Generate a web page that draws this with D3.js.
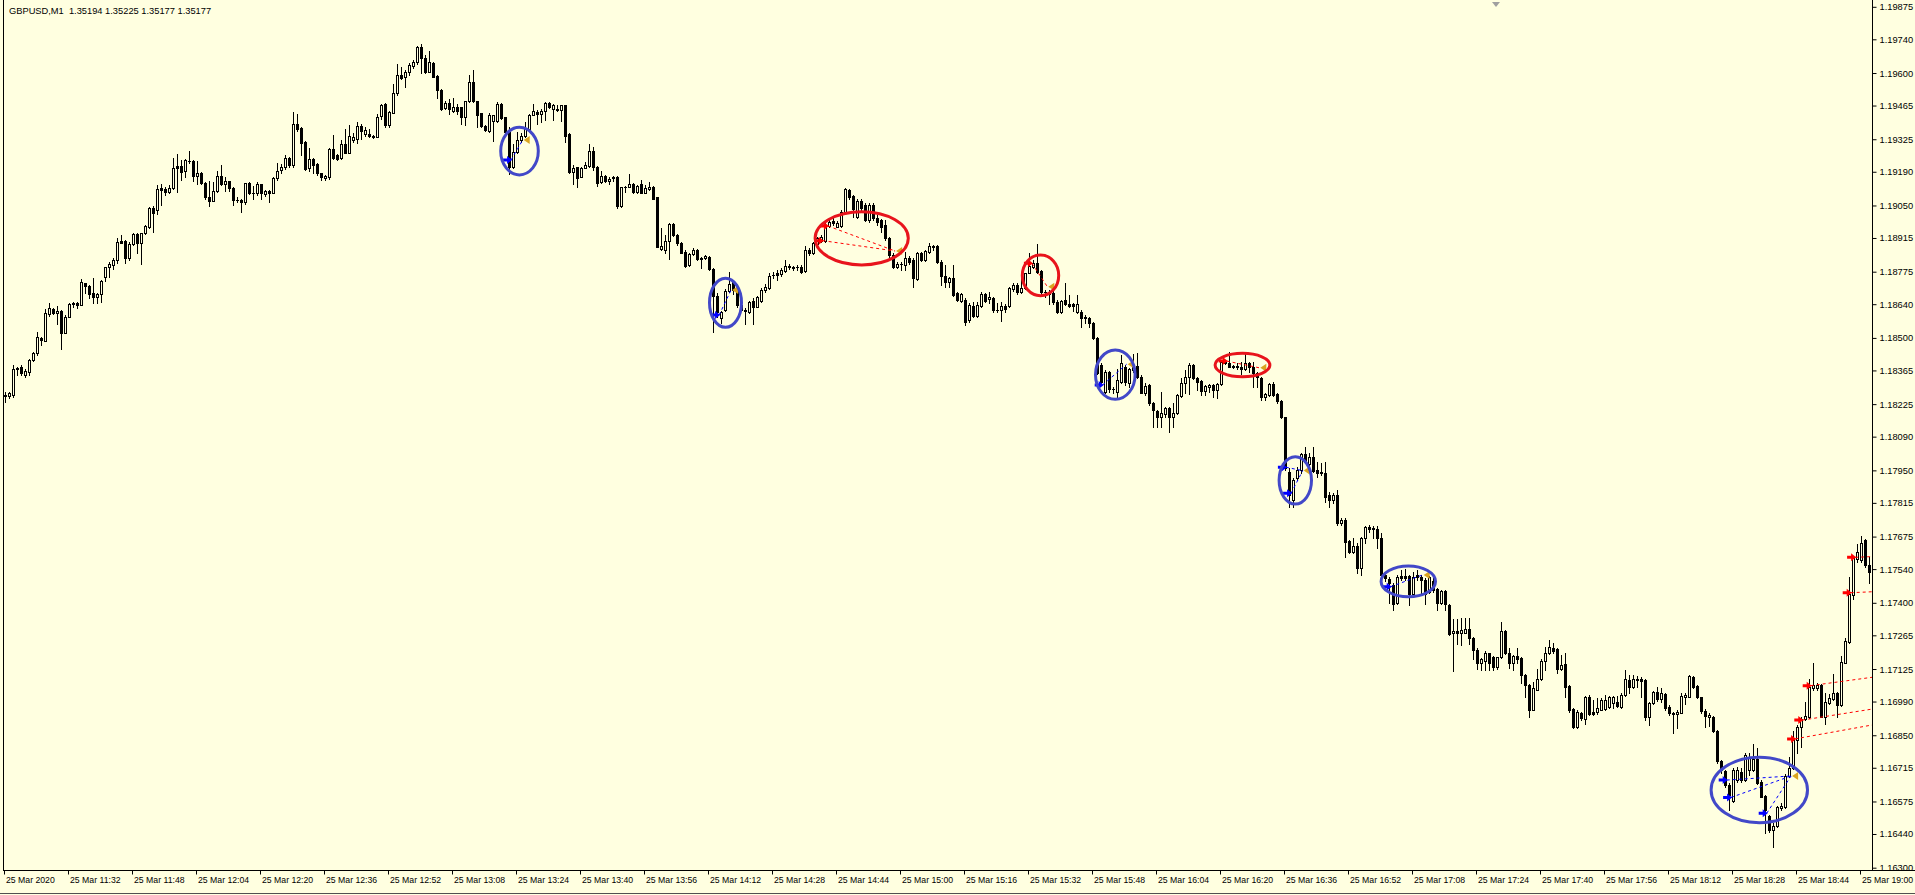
<!DOCTYPE html>
<html><head><meta charset="utf-8">
<script src="https://cdn.jsdelivr.net/npm/d3@7"></script>
<style>html,body{margin:0;padding:0;background:#FFFFE0;overflow:hidden}</style>
</head><body>
<svg id="chart" width="1915" height="895"></svg>
<script>
const symbolTitle = "GBPUSD,M1  1.35194 1.35225 1.35177 1.35177";
const timeLabels = ["25 Mar 2020","25 Mar 11:32","25 Mar 11:48","25 Mar 12:04","25 Mar 12:20","25 Mar 12:36","25 Mar 12:52","25 Mar 13:08","25 Mar 13:24","25 Mar 13:40","25 Mar 13:56","25 Mar 14:12","25 Mar 14:28","25 Mar 14:44","25 Mar 15:00","25 Mar 15:16","25 Mar 15:32","25 Mar 15:48","25 Mar 16:04","25 Mar 16:20","25 Mar 16:36","25 Mar 16:52","25 Mar 17:08","25 Mar 17:24","25 Mar 17:40","25 Mar 17:56","25 Mar 18:12","25 Mar 18:28","25 Mar 18:44","25 Mar 19:00"];
const priceLabels = ["1.19875","1.19740","1.19600","1.19465","1.19325","1.19190","1.19050","1.18915","1.18775","1.18640","1.18500","1.18365","1.18225","1.18090","1.17950","1.17815","1.17675","1.17540","1.17400","1.17265","1.17125","1.16990","1.16850","1.16715","1.16575","1.16440","1.16300"];

const open = [1.18265,1.18261,1.18265,1.18372,1.18380,1.18350,1.18362,1.18410,1.18441,1.18500,
1.18491,1.18600,1.18621,1.18604,1.18613,1.18524,1.18590,1.18642,1.18649,1.18637,
1.18729,1.18718,1.18690,1.18671,1.18685,1.18754,1.18795,1.18806,1.18826,1.18905,
1.18903,1.18833,1.18892,1.18932,1.18898,1.18936,1.18961,1.19042,1.19033,1.19123,
1.19121,1.19109,1.19123,1.19216,1.19216,1.19197,1.19238,1.19238,1.19176,1.19188,
1.19144,1.19089,1.19072,1.19114,1.19174,1.19141,1.19152,1.19123,1.19075,1.19075,
1.19067,1.19144,1.19105,1.19103,1.19140,1.19100,1.19114,1.19105,1.19165,1.19199,
1.19210,1.19248,1.19220,1.19390,1.19372,1.19317,1.19206,1.19244,1.19223,1.19186,
1.19165,1.19169,1.19285,1.19262,1.19248,1.19306,1.19271,1.19324,1.19327,1.19383,
1.19347,1.19347,1.19342,1.19338,1.19425,1.19473,1.19386,1.19437,1.19520,1.19594,
1.19584,1.19605,1.19632,1.19646,1.19711,1.19663,1.19608,1.19645,1.19591,1.19531,
1.19455,1.19476,1.19446,1.19459,1.19459,1.19421,1.19484,1.19566,1.19484,1.19435,
1.19382,1.19363,1.19404,1.19404,1.19473,1.19418,1.19358,1.19210,1.19275,1.19324,
1.19342,1.19368,1.19428,1.19441,1.19432,1.19444,1.19477,1.19451,1.19454,1.19448,
1.19468,1.19347,1.19190,1.19210,1.19172,1.19209,1.19216,1.19278,1.19213,1.19151,
1.19174,1.19152,1.19170,1.19170,1.19050,1.19130,1.19130,1.19141,1.19109,1.19141,
1.19105,1.19119,1.19127,1.19086,1.18872,1.18867,1.18906,1.18975,1.18929,1.18895,
1.18860,1.18805,1.18849,1.18867,1.18836,1.18832,1.18839,1.18787,1.18676,1.18583,
1.18618,1.18698,1.18735,1.18708,1.18638,1.18620,1.18611,1.18656,1.18632,1.18656,
1.18701,1.18708,1.18763,1.18770,1.18767,1.18781,1.18800,1.18795,1.18795,1.18795,
1.18781,1.18867,1.18853,1.18892,1.18906,1.18906,1.18966,1.18989,1.18964,1.18966,
1.19026,1.19116,1.19091,1.19005,1.19072,1.19054,1.18991,1.19054,1.19002,1.18991,
1.18971,1.18915,1.18846,1.18795,1.18811,1.18805,1.18836,1.18825,1.18745,1.18853,
1.18825,1.18860,1.18878,1.18883,1.18818,1.18759,1.18735,1.18749,1.18687,1.18656,
1.18659,1.18576,1.18634,1.18593,1.18634,1.18684,1.18662,1.18669,1.18618,1.18618,
1.18634,1.18634,1.18704,1.18722,1.18694,1.18708,1.18773,1.18795,1.18814,1.18781,
1.18691,1.18684,1.18687,1.18652,1.18611,1.18659,1.18643,1.18643,1.18611,1.18611,
1.18587,1.18583,1.18565,1.18500,1.18389,1.18279,1.18362,1.18288,1.18279,1.18320,
1.18383,1.18316,1.18369,1.18385,1.18341,1.18275,1.18306,1.18233,1.18200,1.18172,
1.18186,1.18210,1.18175,1.18189,1.18261,1.18313,1.18341,1.18389,1.18334,1.18324,
1.18283,1.18300,1.18306,1.18286,1.18311,1.18403,1.18396,1.18385,1.18385,1.18380,
1.18371,1.18399,1.18380,1.18358,1.18334,1.18255,1.18265,1.18311,1.18269,1.18241,
1.18172,1.17947,1.17829,1.17919,1.17954,1.18020,1.17979,1.18006,1.17954,1.17940,
1.17943,1.17850,1.17827,1.17850,1.17732,1.17746,1.17659,1.17615,1.17638,1.17546,
1.17670,1.17716,1.17712,1.17708,1.17670,1.17518,1.17500,1.17476,1.17400,1.17514,
1.17514,1.17514,1.17439,1.17518,1.17511,1.17497,1.17445,1.17494,1.17458,1.17400,
1.17453,1.17393,1.17276,1.17283,1.17276,1.17278,1.17292,1.17255,1.17206,1.17151,
1.17162,1.17193,1.17179,1.17135,1.17176,1.17287,1.17193,1.17154,1.17182,1.17172,
1.17103,1.17061,1.16957,1.17040,1.17085,1.17162,1.17193,1.17213,1.17209,1.17126,
1.17148,1.17057,1.16960,1.16888,1.16946,1.16919,1.17010,1.16950,1.16950,1.16957,
1.16960,1.16968,1.16988,1.16992,1.16971,1.17019,1.17082,1.17054,1.17082,1.17084,
1.17082,1.16929,1.16985,1.17033,1.17001,1.17024,1.16968,1.16946,1.16941,1.16946,
1.17012,1.17012,1.17096,1.17057,1.17010,1.16954,1.16929,1.16929,1.16871,1.16747,
1.16705,1.16646,1.16581,1.16666,1.16701,1.16666,1.16708,1.16708,1.16752,1.16660,
1.16600,1.16517,1.16459,1.16475,1.16549,1.16553,1.16683,1.16715,1.16833,1.16888,
1.16918,1.16929,1.17047,1.17047,1.17061,1.16929,1.16988,1.17001,1.17029,1.16978,
1.17154,1.17241,1.17435,1.17583,1.17580,1.17663,1.17559];

const high = [1.18279,1.18279,1.18390,1.18383,1.18390,1.18372,1.18413,1.18444,1.18527,1.18507,
1.18621,1.18646,1.18628,1.18635,1.18618,1.18596,1.18646,1.18653,1.18653,1.18747,
1.18731,1.18722,1.18750,1.18690,1.18743,1.18798,1.18819,1.18835,1.18916,1.18930,
1.18909,1.18902,1.18939,1.18939,1.18939,1.18971,1.19047,1.19050,1.19137,1.19141,
1.19130,1.19137,1.19248,1.19266,1.19241,1.19244,1.19277,1.19241,1.19235,1.19192,
1.19150,1.19154,1.19150,1.19194,1.19220,1.19172,1.19155,1.19127,1.19086,1.19078,
1.19147,1.19150,1.19133,1.19150,1.19141,1.19116,1.19116,1.19172,1.19230,1.19224,
1.19262,1.19252,1.19440,1.19430,1.19377,1.19321,1.19289,1.19248,1.19227,1.19188,
1.19179,1.19289,1.19345,1.19264,1.19324,1.19368,1.19386,1.19351,1.19397,1.19389,
1.19376,1.19368,1.19345,1.19432,1.19473,1.19479,1.19446,1.19556,1.19639,1.19626,
1.19614,1.19645,1.19656,1.19714,1.19722,1.19677,1.19693,1.19648,1.19594,1.19534,
1.19487,1.19493,1.19497,1.19473,1.19462,1.19487,1.19594,1.19614,1.19487,1.19437,
1.19386,1.19437,1.19429,1.19482,1.19479,1.19421,1.19376,1.19307,1.19358,1.19351,
1.19400,1.19432,1.19473,1.19448,1.19451,1.19482,1.19482,1.19473,1.19469,1.19471,
1.19469,1.19351,1.19220,1.19213,1.19213,1.19232,1.19307,1.19293,1.19216,1.19195,
1.19178,1.19169,1.19174,1.19174,1.19130,1.19133,1.19181,1.19144,1.19138,1.19158,
1.19136,1.19151,1.19133,1.19088,1.18957,1.18929,1.18980,1.18980,1.18933,1.18901,
1.18867,1.18853,1.18874,1.18870,1.18839,1.18846,1.18842,1.18791,1.18687,1.18615,
1.18704,1.18777,1.18742,1.18712,1.18645,1.18625,1.18656,1.18666,1.18676,1.18708,
1.18728,1.18770,1.18777,1.18784,1.18791,1.18825,1.18811,1.18800,1.18805,1.18805,
1.18883,1.18874,1.18901,1.18922,1.18929,1.18991,1.18998,1.18998,1.18989,1.19033,
1.19123,1.19119,1.19095,1.19077,1.19077,1.19061,1.19061,1.19061,1.19012,1.18994,
1.18991,1.18922,1.18853,1.18818,1.18818,1.18860,1.18842,1.18832,1.18860,1.18860,
1.18867,1.18895,1.18888,1.18888,1.18825,1.18805,1.18756,1.18805,1.18694,1.18690,
1.18666,1.18645,1.18652,1.18652,1.18694,1.18690,1.18694,1.18673,1.18646,1.18652,
1.18643,1.18712,1.18731,1.18729,1.18756,1.18773,1.18853,1.18825,1.18892,1.18784,
1.18701,1.18701,1.18701,1.18659,1.18659,1.18731,1.18680,1.18648,1.18680,1.18618,
1.18597,1.18587,1.18569,1.18504,1.18396,1.18369,1.18366,1.18300,1.18371,1.18431,
1.18389,1.18376,1.18435,1.18438,1.18348,1.18313,1.18311,1.18237,1.18203,1.18276,
1.18216,1.18216,1.18230,1.18269,1.18334,1.18369,1.18399,1.18394,1.18338,1.18327,
1.18306,1.18311,1.18311,1.18316,1.18410,1.18410,1.18445,1.18389,1.18396,1.18403,
1.18435,1.18403,1.18403,1.18362,1.18341,1.18275,1.18316,1.18320,1.18272,1.18244,
1.18175,1.17961,1.17919,1.17968,1.18026,1.18051,1.18023,1.18051,1.17988,1.17982,
1.17988,1.17864,1.17860,1.17871,1.17753,1.17753,1.17663,1.17670,1.17649,1.17674,
1.17719,1.17726,1.17721,1.17721,1.17691,1.17532,1.17508,1.17483,1.17518,1.17539,
1.17542,1.17518,1.17532,1.17539,1.17518,1.17504,1.17514,1.17504,1.17463,1.17456,
1.17456,1.17398,1.17334,1.17334,1.17338,1.17338,1.17338,1.17259,1.17213,1.17172,
1.17200,1.17195,1.17182,1.17179,1.17324,1.17290,1.17213,1.17186,1.17213,1.17176,
1.17107,1.17065,1.17075,1.17126,1.17168,1.17218,1.17248,1.17234,1.17213,1.17186,
1.17193,1.17060,1.16964,1.16957,1.16950,1.17016,1.17020,1.17000,1.17006,1.17006,
1.17020,1.17016,1.17015,1.17015,1.17026,1.17123,1.17102,1.17102,1.17098,1.17093,
1.17084,1.16992,1.17037,1.17054,1.17047,1.17026,1.16978,1.16950,1.16957,1.17026,
1.17029,1.17102,1.17098,1.17061,1.17012,1.16960,1.16943,1.16932,1.16874,1.16749,
1.16708,1.16653,1.16715,1.16722,1.16715,1.16777,1.16780,1.16816,1.16798,1.16666,
1.16604,1.16521,1.16489,1.16559,1.16570,1.16691,1.16761,1.16871,1.16895,1.16927,
1.16992,1.17084,1.17154,1.17071,1.17065,1.17029,1.17024,1.17107,1.17033,1.17181,
1.17255,1.17508,1.17597,1.17646,1.17680,1.17666,1.17594];

const low = [1.18238,1.18251,1.18258,1.18348,1.18348,1.18339,1.18348,1.18408,1.18431,1.18473,
1.18491,1.18593,1.18602,1.18559,1.18458,1.18524,1.18590,1.18629,1.18625,1.18637,
1.18687,1.18669,1.18646,1.18649,1.18653,1.18740,1.18757,1.18787,1.18815,1.18898,
1.18815,1.18826,1.18889,1.18856,1.18809,1.18934,1.18960,1.18943,1.19017,1.19054,
1.19096,1.19103,1.19119,1.19109,1.19158,1.19172,1.19230,1.19155,1.19140,1.19140,
1.19078,1.19050,1.19069,1.19109,1.19136,1.19114,1.19112,1.19053,1.19068,1.19026,
1.19058,1.19098,1.19079,1.19096,1.19078,1.19091,1.19068,1.19105,1.19158,1.19186,
1.19202,1.19213,1.19213,1.19363,1.19262,1.19199,1.19197,1.19188,1.19179,1.19158,
1.19158,1.19161,1.19245,1.19241,1.19245,1.19268,1.19268,1.19317,1.19310,1.19327,
1.19340,1.19338,1.19333,1.19335,1.19410,1.19379,1.19376,1.19435,1.19511,1.19576,
1.19545,1.19594,1.19624,1.19639,1.19601,1.19603,1.19605,1.19587,1.19497,1.19448,
1.19451,1.19430,1.19441,1.19432,1.19390,1.19386,1.19482,1.19482,1.19376,1.19376,
1.19363,1.19358,1.19321,1.19400,1.19412,1.19351,1.19181,1.19206,1.19271,1.19317,
1.19338,1.19363,1.19426,1.19390,1.19400,1.19407,1.19455,1.19407,1.19446,1.19401,
1.19317,1.19188,1.19140,1.19130,1.19169,1.19209,1.19213,1.19199,1.19134,1.19147,
1.19151,1.19141,1.19154,1.19040,1.19047,1.19109,1.19130,1.19105,1.19105,1.19102,
1.19102,1.19116,1.19077,1.18878,1.18867,1.18856,1.18828,1.18925,1.18888,1.18853,
1.18798,1.18800,1.18846,1.18825,1.18791,1.18828,1.18784,1.18528,1.18590,1.18562,
1.18615,1.18694,1.18684,1.18632,1.18618,1.18560,1.18607,1.18560,1.18629,1.18652,
1.18694,1.18704,1.18749,1.18742,1.18759,1.18777,1.18787,1.18784,1.18784,1.18770,
1.18777,1.18846,1.18850,1.18888,1.18901,1.18901,1.18964,1.18971,1.18961,1.18964,
1.19022,1.19081,1.19005,1.18998,1.19026,1.18989,1.18984,1.18991,1.18971,1.18943,
1.18908,1.18839,1.18791,1.18791,1.18784,1.18784,1.18811,1.18712,1.18742,1.18823,
1.18823,1.18856,1.18867,1.18814,1.18722,1.18715,1.18712,1.18676,1.18656,1.18652,
1.18555,1.18569,1.18587,1.18587,1.18629,1.18652,1.18648,1.18611,1.18611,1.18574,
1.18611,1.18632,1.18698,1.18684,1.18690,1.18704,1.18770,1.18791,1.18773,1.18684,
1.18673,1.18643,1.18643,1.18604,1.18604,1.18639,1.18629,1.18615,1.18607,1.18546,
1.18562,1.18549,1.18496,1.18352,1.18313,1.18275,1.18279,1.18272,1.18247,1.18316,
1.18306,1.18300,1.18362,1.18334,1.18272,1.18265,1.18223,1.18131,1.18131,1.18134,
1.18175,1.18113,1.18134,1.18186,1.18258,1.18272,1.18269,1.18330,1.18286,1.18265,
1.18265,1.18279,1.18258,1.18251,1.18306,1.18394,1.18380,1.18376,1.18371,1.18352,
1.18369,1.18362,1.18300,1.18300,1.18244,1.18244,1.18261,1.18261,1.18233,1.18168,
1.17954,1.17802,1.17802,1.17912,1.17940,1.17982,1.17968,1.17947,1.17926,1.17933,
1.17822,1.17802,1.17815,1.17726,1.17726,1.17594,1.17608,1.17608,1.17525,1.17518,
1.17649,1.17698,1.17670,1.17629,1.17511,1.17494,1.17400,1.17373,1.17398,1.17497,
1.17497,1.17393,1.17435,1.17497,1.17435,1.17398,1.17442,1.17449,1.17373,1.17398,
1.17373,1.17269,1.17117,1.17231,1.17227,1.17276,1.17231,1.17168,1.17126,1.17123,
1.17123,1.17123,1.17121,1.17126,1.17172,1.17190,1.17130,1.17121,1.17151,1.17068,
1.17013,1.16927,1.16955,1.17038,1.17082,1.17123,1.17190,1.17193,1.17110,1.17123,
1.17013,1.16950,1.16881,1.16881,1.16916,1.16899,1.16937,1.16937,1.16941,1.16955,
1.16957,1.16964,1.16964,1.16971,1.16964,1.17015,1.17029,1.17047,1.17054,1.17010,
1.16916,1.16895,1.16982,1.16996,1.16992,1.16957,1.16936,1.16863,1.16881,1.16943,
1.16982,1.17010,1.17047,1.17006,1.16946,1.16888,1.16891,1.16867,1.16736,1.16694,
1.16639,1.16542,1.16576,1.16660,1.16660,1.16664,1.16687,1.16705,1.16650,1.16595,
1.16448,1.16452,1.16387,1.16470,1.16542,1.16549,1.16680,1.16711,1.16777,1.16805,
1.16916,1.16923,1.17040,1.17040,1.16927,1.16899,1.16982,1.16999,1.16929,1.16974,
1.17151,1.17237,1.17417,1.17573,1.17573,1.17549,1.17486];

const close = [1.18261,1.18275,1.18372,1.18376,1.18355,1.18366,1.18410,1.18438,1.18505,1.18494,
1.18604,1.18625,1.18607,1.18615,1.18524,1.18590,1.18642,1.18649,1.18637,1.18733,
1.18718,1.18685,1.18671,1.18685,1.18740,1.18795,1.18809,1.18826,1.18899,1.18898,
1.18833,1.18892,1.18932,1.18898,1.18936,1.18967,1.19042,1.19019,1.19119,1.19116,
1.19109,1.19123,1.19209,1.19209,1.19192,1.19241,1.19236,1.19176,1.19186,1.19144,
1.19089,1.19072,1.19114,1.19174,1.19141,1.19152,1.19123,1.19075,1.19073,1.19067,
1.19144,1.19103,1.19104,1.19140,1.19103,1.19114,1.19105,1.19165,1.19197,1.19210,
1.19248,1.19220,1.19390,1.19368,1.19313,1.19204,1.19244,1.19220,1.19186,1.19169,
1.19174,1.19285,1.19248,1.19245,1.19306,1.19271,1.19342,1.19338,1.19383,1.19363,
1.19365,1.19340,1.19338,1.19418,1.19471,1.19386,1.19439,1.19518,1.19594,1.19580,
1.19605,1.19635,1.19646,1.19709,1.19663,1.19605,1.19646,1.19587,1.19531,1.19453,
1.19476,1.19451,1.19459,1.19446,1.19421,1.19484,1.19566,1.19484,1.19428,1.19383,
1.19365,1.19428,1.19426,1.19473,1.19415,1.19358,1.19213,1.19275,1.19324,1.19342,
1.19368,1.19428,1.19444,1.19432,1.19444,1.19476,1.19459,1.19468,1.19448,1.19468,
1.19340,1.19190,1.19209,1.19165,1.19206,1.19219,1.19278,1.19213,1.19147,1.19174,
1.19155,1.19160,1.19166,1.19050,1.19127,1.19129,1.19141,1.19109,1.19134,1.19105,
1.19123,1.19130,1.19081,1.18881,1.18883,1.18906,1.18975,1.18929,1.18895,1.18856,
1.18800,1.18850,1.18867,1.18831,1.18828,1.18842,1.18787,1.18676,1.18611,1.18611,
1.18698,1.18728,1.18701,1.18638,1.18620,1.18615,1.18652,1.18632,1.18670,1.18701,
1.18712,1.18759,1.18762,1.18763,1.18784,1.18802,1.18798,1.18791,1.18798,1.18777,
1.18867,1.18853,1.18895,1.18915,1.18922,1.18971,1.18984,1.18978,1.18980,1.19026,
1.19119,1.19088,1.19036,1.19072,1.19040,1.18991,1.19054,1.18998,1.18984,1.18961,
1.18915,1.18846,1.18795,1.18811,1.18810,1.18836,1.18818,1.18749,1.18853,1.18825,
1.18863,1.18883,1.18883,1.18818,1.18759,1.18735,1.18749,1.18680,1.18659,1.18684,
1.18569,1.18638,1.18593,1.18639,1.18684,1.18657,1.18673,1.18618,1.18619,1.18634,
1.18621,1.18708,1.18722,1.18694,1.18708,1.18770,1.18801,1.18814,1.18777,1.18691,
1.18693,1.18694,1.18652,1.18611,1.18657,1.18643,1.18634,1.18634,1.18643,1.18583,
1.18583,1.18565,1.18500,1.18355,1.18320,1.18362,1.18288,1.18290,1.18327,1.18396,
1.18320,1.18371,1.18389,1.18341,1.18275,1.18302,1.18230,1.18203,1.18172,1.18189,
1.18210,1.18172,1.18192,1.18265,1.18313,1.18341,1.18389,1.18334,1.18320,1.18283,
1.18302,1.18306,1.18286,1.18311,1.18403,1.18396,1.18383,1.18380,1.18380,1.18371,
1.18396,1.18380,1.18355,1.18341,1.18255,1.18269,1.18311,1.18265,1.18241,1.18172,
1.17961,1.17850,1.17910,1.17954,1.18020,1.17988,1.18006,1.17951,1.17940,1.17947,
1.17843,1.17827,1.17850,1.17732,1.17746,1.17656,1.17615,1.17636,1.17546,1.17670,
1.17716,1.17708,1.17710,1.17670,1.17518,1.17504,1.17483,1.17398,1.17508,1.17504,
1.17507,1.17439,1.17511,1.17511,1.17497,1.17439,1.17508,1.17456,1.17400,1.17453,
1.17398,1.17273,1.17287,1.17276,1.17290,1.17292,1.17255,1.17206,1.17151,1.17168,
1.17193,1.17151,1.17135,1.17176,1.17283,1.17193,1.17151,1.17182,1.17168,1.17103,
1.17061,1.16957,1.17047,1.17085,1.17162,1.17193,1.17218,1.17204,1.17126,1.17144,
1.17054,1.16955,1.16888,1.16950,1.16923,1.17010,1.16941,1.16941,1.16964,1.16999,
1.16999,1.17010,1.17012,1.16974,1.17019,1.17084,1.17054,1.17084,1.17084,1.17079,
1.16929,1.16985,1.17033,1.17001,1.17026,1.16964,1.16943,1.16941,1.16950,1.17015,
1.17019,1.17098,1.17054,1.17010,1.16954,1.16932,1.16936,1.16871,1.16747,1.16708,
1.16646,1.16604,1.16708,1.16708,1.16666,1.16770,1.16763,1.16752,1.16653,1.16597,
1.16542,1.16459,1.16475,1.16553,1.16559,1.16683,1.16715,1.16833,1.16888,1.16918,
1.16932,1.17054,1.17061,1.17061,1.16929,1.16992,1.17006,1.17029,1.16978,1.17158,
1.17245,1.17439,1.17591,1.17615,1.17652,1.17559,1.17531];

// annotation ellipses: [first bar, last bar, low price, high price]
const blueZones = [[123.8,133.2,1.19179,1.19377],[176.0,184.0,1.18546,1.18750],[272.5,282.4,1.18247,1.18452],[318.4,326.5,1.17812,1.18009],[343.9,357.5,1.17427,1.17555],[426.4,450.5,1.16489,1.16761]];
const redZones = [[202.4,225.7,1.18805,1.19026],[254.2,263.3,1.18677,1.18846],[302.4,316.1,1.18341,1.18438]];
// closed trades: entries [bar, price], exit [bar, price]
const buyTrades = [
  {entries:[[126.4,1.19241]], exit:[129.3,1.19324]},
  {entries:[[178.4,1.18597]], exit:[181.4,1.18701]},
  {entries:[[274.3,1.18307]], exit:[280.3,1.18393]},
  {entries:[[320.1,1.17965],[321.4,1.17857]], exit:[324.3,1.17951]},
  {entries:[[346.3,1.17469]], exit:[354.3,1.17518]},
  {entries:[[430.3,1.16666],[431.4,1.16594],[440.3,1.16528]], exit:[446.4,1.16683]}
];
const sellTrades = [
  {entries:[[204.3,1.18906],[205.6,1.18967]], exit:[222.4,1.18863]},
  {entries:[[256.6,1.18812]], exit:[260.45,1.18715]},
  {entries:[[305.3,1.18406]], exit:[313.45,1.18378]}
];
// open sell positions: [entry bar, entry price, price at right edge]
const openSells = [[447.4,1.16837,1.16895],[449.2,1.16915,1.16961],[451.3,1.17058,1.17093],[461.3,1.17444,1.17448],[462.4,1.17591,1.17594]];

const W = 1915, H = 895, BG = "#FFFFE0";
const FONT = "'Liberation Sans', Arial, sans-serif";
const plotLeft = 3.5, plotRight = 1872.5, plotBottom = 870.5;
const svg = d3.select("#chart");
svg.append("rect").attr("width", W).attr("height", H).attr("fill", BG);

const xs = d3.scaleLinear().domain([0, 466]).range([5.5, 1869.5]);
const ys = d3.scaleLinear().domain([1.163, 1.19875]).range([868.2, 7.3]);

const bars = d3.range(open.length).map(i => ({i, o: open[i], h: high[i], l: low[i], c: close[i]}));

const cg = svg.append("g");
cg.selectAll("line.wick").data(bars).join("line").attr("class","wick")
  .attr("x1", d => xs(d.i)).attr("x2", d => xs(d.i))
  .attr("y1", d => Math.round(ys(d.h))).attr("y2", d => Math.round(ys(d.l)) + 1)
  .attr("stroke", "#000").attr("stroke-width", 1).attr("shape-rendering","crispEdges");

bars.forEach(d => {
  const top = Math.round(ys(Math.max(d.o, d.c)));
  const bot = Math.round(ys(Math.min(d.o, d.c)));
  const bull = d.c >= d.o;
  if (!bull || bot - top < 2) {
    cg.append("rect").attr("x", xs(d.i) - 1.5).attr("y", top).attr("width", 3)
      .attr("height", Math.max(1, bot - top + 1)).attr("fill", "#000").attr("shape-rendering","crispEdges");
  } else {
    cg.append("rect").attr("x", xs(d.i) - 1).attr("y", top + 0.5).attr("width", 2)
      .attr("height", bot - top).attr("fill", BG).attr("stroke", "#000").attr("stroke-width", 1).attr("shape-rendering","crispEdges");
  }
});

// zones
const ell = (zones, color) => svg.append("g").selectAll("ellipse").data(zones).join("ellipse")
  .attr("cx", d => (xs(d[0]) + xs(d[1])) / 2).attr("cy", d => (ys(d[2]) + ys(d[3])) / 2)
  .attr("rx", d => (xs(d[1]) - xs(d[0])) / 2).attr("ry", d => Math.abs(ys(d[2]) - ys(d[3])) / 2)
  .attr("fill", "none").attr("stroke", color).attr("stroke-width", 3);

// trade lines and markers
const tg = svg.append("g");
const arrowPath = "M-8,-1.5 h4 v-2.5 l5,4 l-5,4 v-2.5 h-4 z";
const exitPath = "M1,0 l6,-4 v8 z";
function drawTrades(trades, color) {
  trades.forEach(t => {
    t.entries.forEach(e => {
      tg.append("line").attr("x1", xs(e[0])).attr("y1", ys(e[1])).attr("x2", xs(t.exit[0])).attr("y2", ys(t.exit[1]))
        .attr("stroke", color).attr("stroke-width", 1).attr("stroke-dasharray", "3,3");
    });
  });
  trades.forEach(t => {
    t.entries.forEach(e => {
      tg.append("path").attr("d", arrowPath).attr("transform", `translate(${xs(e[0])},${ys(e[1])})`).attr("fill", color);
    });
    tg.append("path").attr("d", exitPath).attr("transform", `translate(${xs(t.exit[0])},${ys(t.exit[1])})`).attr("fill", "#DAA520");
  });
}
drawTrades(buyTrades, "#0000FF");
drawTrades(sellTrades, "#FF0000");
openSells.forEach(s => {
  tg.append("line").attr("x1", xs(s[0])).attr("y1", ys(s[1])).attr("x2", plotRight).attr("y2", ys(s[2]))
    .attr("stroke", "#FF0000").attr("stroke-width", 1).attr("stroke-dasharray", "3,3");
  tg.append("path").attr("d", arrowPath).attr("transform", `translate(${xs(s[0])},${ys(s[1])})`).attr("fill", "#FF0000");
});

ell(blueZones, "#4248C8");
ell(redZones, "#E8141C");

// frame
const fg = svg.append("g").attr("stroke", "#000").attr("stroke-width", 1).attr("shape-rendering","crispEdges");
fg.append("line").attr("x1", plotLeft).attr("x2", plotLeft).attr("y1", 0).attr("y2", plotBottom);
fg.append("line").attr("x1", plotRight).attr("x2", plotRight).attr("y1", 0).attr("y2", plotBottom);
fg.append("line").attr("x1", plotLeft).attr("x2", W).attr("y1", plotBottom).attr("y2", plotBottom);
svg.append("line").attr("x1", 0).attr("x2", W).attr("y1", 893.5).attr("y2", 893.5).attr("stroke", "#505050");

// axes
const yAxis = d3.axisRight(ys).tickValues(priceLabels.map(Number)).tickFormat((d, i) => priceLabels[i])
  .tickSize(4).tickPadding(3).tickSizeOuter(0);
const ya = svg.append("g").attr("transform", `translate(${plotRight},-0.5)`).call(yAxis);
ya.select(".domain").remove();
ya.selectAll("text").attr("font-family", FONT).attr("font-size", 9.3).attr("fill", "#000");

const timeBars = timeLabels.map((t, k) => k * 16);
const xAxis = d3.axisBottom(xs).tickValues(timeBars).tickFormat((d, i) => timeLabels[i]).tickSize(4).tickPadding(2).tickSizeOuter(0);
const xa = svg.append("g").attr("transform", `translate(-1.5,${plotBottom})`).call(xAxis);
xa.select(".domain").remove();
xa.selectAll("text").attr("font-family", FONT).attr("font-size", 8.7).attr("fill", "#000").attr("text-anchor", "start").attr("dx", 1.5);

// title
svg.append("text").attr("x", 9).attr("y", 14).attr("font-family", FONT).attr("font-size", 9.3)
  .style("white-space", "pre").attr("fill", "#000").text(symbolTitle);
// chart-shift marker
svg.append("path").attr("d", "M1492,2 h8 l-4,5 z").attr("fill", "#A0A0A0");
</script>
</body></html>
